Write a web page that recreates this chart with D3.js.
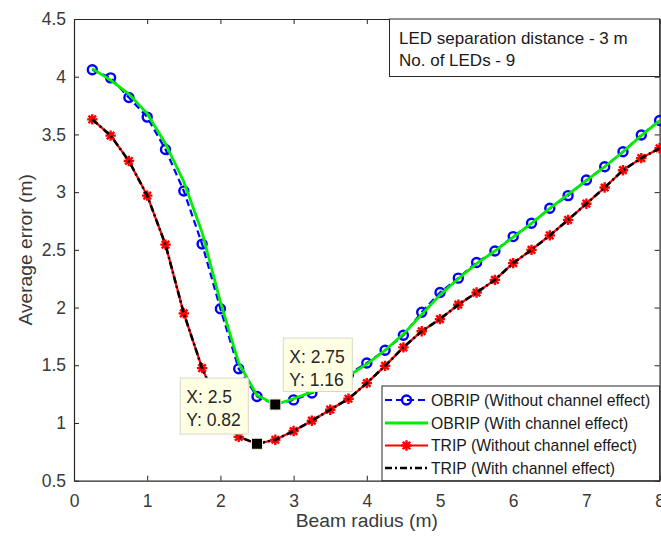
<!DOCTYPE html>
<html><head><meta charset="utf-8">
<script src="https://cdn.jsdelivr.net/npm/d3@7"></script>
<style>
body{margin:0;background:#fff}
svg{display:block}
text{font-family:"Liberation Sans",Arial,Helvetica,sans-serif}
</style>
</head><body>
<svg id="chart" width="661" height="541"></svg>
<script>
const beamRadius = [0.25,0.5,0.75,1,1.25,1.5,1.75,2,2.25,2.5,2.75,3,3.25,3.5,3.75,4,4.25,4.5,4.75,5,5.25,5.5,5.75,6,6.25,6.5,6.75,7,7.25,7.5,7.75,8];
const obripWithout = [4.06,3.99,3.82,3.65,3.37,3.01,2.55,1.99,1.47,1.23,1.16,1.20,1.26,1.33,1.42,1.52,1.63,1.76,1.96,2.13,2.255,2.39,2.49,2.615,2.73,2.86,2.97,3.105,3.22,3.35,3.495,3.62];
const obripWith = [4.07,3.97,3.85,3.68,3.42,3.09,2.65,2.05,1.52,1.24,1.16,1.21,1.27,1.33,1.41,1.51,1.63,1.77,1.94,2.11,2.25,2.38,2.49,2.61,2.73,2.86,2.98,3.10,3.22,3.35,3.49,3.62];
const tripWithout = [3.63,3.49,3.27,2.97,2.545,1.95,1.475,1.12,0.88,0.82,0.855,0.93,1.02,1.115,1.21,1.345,1.495,1.655,1.795,1.90,2.025,2.13,2.24,2.385,2.50,2.625,2.76,2.90,3.04,3.19,3.295,3.38];
const tripWith = [3.63,3.49,3.27,2.97,2.545,1.95,1.475,1.12,0.88,0.82,0.855,0.93,1.02,1.115,1.21,1.345,1.495,1.655,1.795,1.90,2.025,2.13,2.24,2.385,2.50,2.625,2.76,2.90,3.04,3.19,3.295,3.38];
const xTicks = [0,1,2,3,4,5,6,7,8];
const yTicks = [0.5,1,1.5,2,2.5,3,3.5,4,4.5];
const xTickLabels = ["0","1","2","3","4","5","6","7","8"];
const yTickLabels = ["0.5","1","1.5","2","2.5","3","3.5","4","4.5"];
const xLabel = "Beam radius (m)";
const yLabel = "Average error (m)";
const legendLabels = ["OBRIP (Without channel effect)","OBRIP (With channel effect)","TRIP (Without channel effect)","TRIP (With channel effect)"];
const annotationLines = ["LED separation distance - 3 m","No. of LEDs - 9"];
const tipX = [2.5, 2.75];
const tipY = [0.82, 1.16];

const svg = d3.select("#chart");
const L = 74, R = 659.6, T = 19, B = 480.7;
const x = d3.scaleLinear().domain([0,8]).range([L,R]);
const y = d3.scaleLinear().domain([0.5,4.5]).range([B,T]);
const axisColor = "#262626";
const tickFont = "17.5px";

function styleAxis(g){
  g.select(".domain").attr("stroke",axisColor).attr("stroke-width",1.2);
  g.selectAll(".tick line").attr("stroke",axisColor).attr("stroke-width",1);
  g.selectAll(".tick text").attr("fill","#3a3a3a").style("font-size",tickFont).attr("font-family",null);
}
svg.append("g").attr("transform",`translate(0,${B})`)
  .call(d3.axisBottom(x).tickValues(xTicks).tickFormat((d,i)=>xTickLabels[i]).tickSizeInner(-5).tickSizeOuter(0).tickPadding(14))
  .call(styleAxis);
svg.append("g").attr("transform",`translate(0,${T})`)
  .call(d3.axisTop(x).tickValues(xTicks).tickFormat("").tickSizeInner(-5).tickSizeOuter(0))
  .call(styleAxis);
svg.append("g").attr("transform",`translate(${L},0)`)
  .call(d3.axisLeft(y).tickValues(yTicks).tickFormat((d,i)=>yTickLabels[i]).tickSizeInner(-5).tickSizeOuter(0).tickPadding(8))
  .call(styleAxis);
svg.append("g").attr("transform",`translate(${R},0)`)
  .call(d3.axisRight(y).tickValues(yTicks).tickFormat("").tickSizeInner(-5).tickSizeOuter(0))
  .call(styleAxis);
svg.selectAll(".tick text").style("font-family",'"Liberation Sans",Arial,sans-serif');

svg.append("text").attr("x",(L+R)/2).attr("y",527).attr("text-anchor","middle")
  .attr("fill","#3a3a3a").style("font-size","19.25px").text(xLabel);
svg.append("text").attr("transform",`translate(32,${(T+B)/2}) rotate(-90)`).attr("text-anchor","middle")
  .attr("fill","#3a3a3a").style("font-size","19.25px").text(yLabel);

const line = (vals)=>d3.line().x((d,i)=>x(beamRadius[i])).y(d=>y(d))(vals);
const plot = svg.append("g");

function asterisk(s){
  const d = s*0.72;
  return `M${-s},0L${s},0M0,${-s}L0,${s}M${-d},${-d}L${d},${d}M${-d},${d}L${d},${-d}`;
}

plot.append("path").attr("d",line(obripWithout)).attr("fill","none")
  .attr("stroke","#0000ff").attr("stroke-width",2.2).attr("stroke-dasharray","7,4");
plot.selectAll(".circ").data(obripWithout).enter().append("circle")
  .attr("cx",(d,i)=>x(beamRadius[i])).attr("cy",d=>y(d)).attr("r",4.5)
  .attr("fill","none").attr("stroke","#0000ff").attr("stroke-width",2.4);
plot.append("path").attr("d",line(obripWith)).attr("fill","none")
  .attr("stroke","#00ee00").attr("stroke-width",2.8);
plot.append("path").attr("d",line(tripWithout)).attr("fill","none")
  .attr("stroke","#ff0000").attr("stroke-width",2.2);
plot.selectAll(".ast").data(tripWithout).enter().append("path")
  .attr("transform",(d,i)=>`translate(${x(beamRadius[i])},${y(d)})`)
  .attr("d",asterisk(5.2)).attr("fill","none").attr("stroke","#ff0000").attr("stroke-width",2.4);
plot.append("path").attr("d",line(tripWith)).attr("fill","none")
  .attr("stroke","#000000").attr("stroke-width",2.6).attr("stroke-dasharray","7,3,2,3");

const ann = svg.append("g");
ann.append("rect").attr("x",389.5).attr("y",T).attr("width",R-389.5).attr("height",57.5)
  .attr("fill","#fff").attr("stroke","#262626").attr("stroke-width",1);
annotationLines.forEach((t,i)=>{
  ann.append("text").attr("x",399).attr("y",44+i*22).attr("fill","#1a1a1a")
    .style("font-size","17px").text(t);
});

const tipGeom = [
  {dx:-8.7-68, dy:-9.7-56, w:68, h:56},
  {dx:8, dy:-13-53.4, w:69, h:53.4}
];
tipX.forEach((tx,i)=>{
  const px = x(tx), py = y(tipY[i]);
  const g = svg.append("g");
  const gm = tipGeom[i];
  g.append("rect").attr("x",px+gm.dx).attr("y",py+gm.dy).attr("width",gm.w).attr("height",gm.h)
    .attr("fill","#ffffe4").attr("stroke","#d8d8c8").attr("stroke-width",1);
  const labels = ["X: "+tx, "Y: "+tipY[i]];
  labels.forEach((t,j)=>{
    g.append("text").attr("x",px+gm.dx+6).attr("y",py+gm.dy+25+j*23)
      .attr("fill","#262626").style("font-size","17.5px").text(t);
  });
  svg.append("rect").attr("x",px-5.5).attr("y",py-5.5).attr("width",11).attr("height",11)
    .attr("fill","#000").attr("stroke","#f0f0d0").attr("stroke-width",1);
});

const leg = svg.append("g");
const lx = 382, ly = 386;
leg.append("rect").attr("x",lx).attr("y",ly).attr("width",R-lx).attr("height",B-ly)
  .attr("fill","#fff").attr("stroke","#262626").attr("stroke-width",1);
const rowY = [400,423,445.5,468];
const x1 = 385, x2 = 428, xm = 406.5;
leg.append("line").attr("x1",x1).attr("x2",x2).attr("y1",rowY[0]).attr("y2",rowY[0])
  .attr("stroke","#0000ff").attr("stroke-width",2.2).attr("stroke-dasharray","7,4");
leg.append("circle").attr("cx",xm).attr("cy",rowY[0]).attr("r",4.5).attr("fill","none")
  .attr("stroke","#0000ff").attr("stroke-width",2.4);
leg.append("line").attr("x1",x1).attr("x2",x2).attr("y1",rowY[1]).attr("y2",rowY[1])
  .attr("stroke","#00ee00").attr("stroke-width",2.8);
leg.append("line").attr("x1",x1).attr("x2",x2).attr("y1",rowY[2]).attr("y2",rowY[2])
  .attr("stroke","#ff0000").attr("stroke-width",2.2);
leg.append("path").attr("transform",`translate(${xm},${rowY[2]})`).attr("d",asterisk(5.2))
  .attr("fill","none").attr("stroke","#ff0000").attr("stroke-width",2.4);
leg.append("line").attr("x1",x1).attr("x2",x2).attr("y1",rowY[3]).attr("y2",rowY[3])
  .attr("stroke","#000").attr("stroke-width",2.6).attr("stroke-dasharray","7,3,2,3");
legendLabels.forEach((t,i)=>{
  leg.append("text").attr("x",431).attr("y",rowY[i]).attr("dy","0.36em")
    .attr("fill","#1a1a1a").style("font-size","15.75px").text(t);
});
</script>
</body></html>
